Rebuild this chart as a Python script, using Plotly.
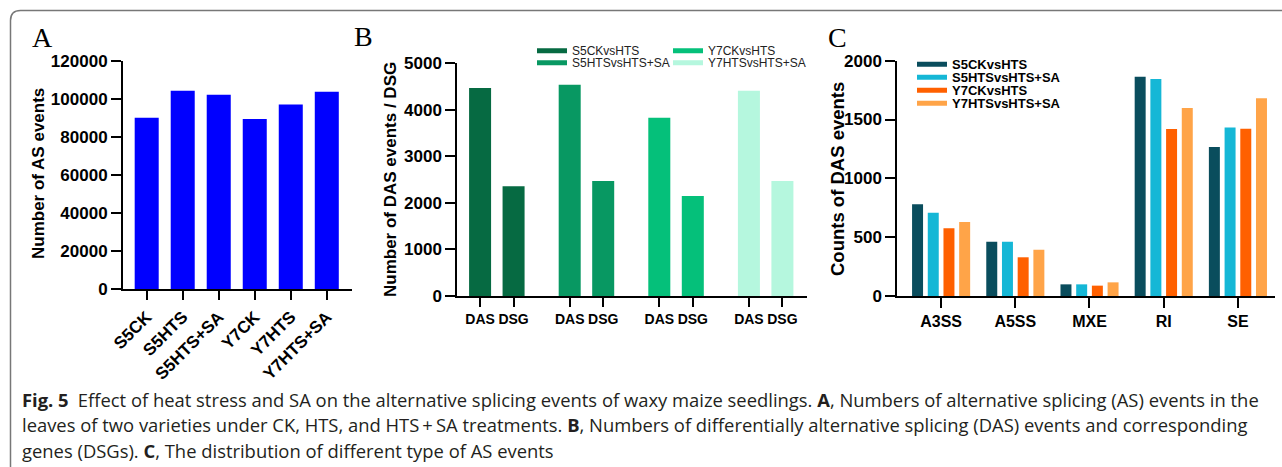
import plotly.graph_objects as go

W, H = 1282, 467

# ---------------- data ----------------
# Panel A
a_categories = ["S5CK", "S5HTS", "S5HTS+SA", "Y7CK", "Y7HTS", "Y7HTS+SA"]
a_values = [90000, 104200, 102100, 89400, 96900, 103700]
a_ticks = [0, 20000, 40000, 60000, 80000, 100000, 120000]

# Panel B
b_series = ["S5CKvsHTS", "S5HTSvsHTS+SA", "Y7CKvsHTS", "Y7HTSvsHTS+SA"]
b_labels = ["DAS", "DSG"]
b_das = [4470, 4540, 3830, 4410]
b_dsg = [2360, 2470, 2150, 2470]
b_ticks = [0, 1000, 2000, 3000, 4000, 5000]

# Panel C
c_categories = ["A3SS", "A5SS", "MXE", "RI", "SE"]
c_series = ["S5CKvsHTS", "S5HTSvsHTS+SA", "Y7CKvsHTS", "Y7HTSvsHTS+SA"]
c_s5ck = [779, 462, 99, 1864, 1266]
c_s5hts = [708, 462, 99, 1844, 1433]
c_y7ck = [575, 329, 88, 1419, 1422]
c_y7hts = [629, 394, 116, 1598, 1680]
c_ticks = [0, 500, 1000, 1500, 2000]

# ---------------- style ----------------
a_color = "#0000FF"
b_colors = ["#066A42", "#089862", "#05C07A", "#B5F7DE"]
c_colors = ["#0A4D5D", "#15B7D6", "#FF6000", "#FFA448"]

SANS = "Liberation Sans, Arial, sans-serif"
SERIF = "Liberation Serif, Times New Roman, serif"
CAP = "Open Sans, Noto Sans, sans-serif"


def px2x(p):
    return p / W


def px2y(p):
    return 1 - p / H


tick_font = dict(family=SANS, size=17, color="black", weight="bold")
a_cat_font = dict(family=SANS, size=17, color="black", weight="bold")
b_cat_font = dict(family=SANS, size=14, color="black", weight="bold")
c_cat_font = dict(family=SANS, size=16, color="black", weight="bold")

fig = go.Figure()

# Panel A bars
fig.add_trace(go.Bar(
    x=a_categories, y=a_values, marker=dict(color=a_color, line=dict(width=0)),
    width=0.667, offset=-0.3335, xaxis="x", yaxis="y", showlegend=False,
))

# Panel B bars (DAS/DSG pair per comparison)
GROUP_STEP = 2.675
for g, name in enumerate(b_series):
    xs = [g * GROUP_STEP + j for j in range(len(b_labels))]
    fig.add_trace(go.Bar(
        x=xs, y=[b_das[g], b_dsg[g]], name=name,
        marker=dict(color=b_colors[g], line=dict(width=0)),
        width=0.657, offset=-0.3285, xaxis="x2", yaxis="y2", showlegend=False,
    ))
b_tickvals = [g * GROUP_STEP + j for g in range(len(b_series)) for j in range(len(b_labels))]
b_ticktext = [lab for g in range(len(b_series)) for lab in b_labels]

# Panel C bars
c_values = [c_s5ck, c_s5hts, c_y7ck, c_y7hts]
for i, name in enumerate(c_series):
    fig.add_trace(go.Bar(
        x=c_categories, y=c_values[i], name=name,
        marker=dict(color=c_colors[i], line=dict(width=0)),
        width=0.148, offset=-0.391 + i * 0.2116,
        xaxis="x3", yaxis="y3", showlegend=False,
    ))

# Legend entries (thin bar swatches), one legend per entry for exact spacing
b_leg_pos = [(537, 50.7), (537, 62.7), (673, 50.7), (673, 62.7)]
c_leg_pos = [(917, 64.3), (917, 77.3), (917, 90.3), (917, 103.3)]
legend_layouts = {}
k = 1
for i, name in enumerate(b_series):
    lname = "legend" if k == 1 else f"legend{k}"
    fig.add_trace(go.Scatter(
        x=[None], y=[None], mode="lines", name=name,
        line=dict(color=b_colors[i], width=5),
        xaxis="x2", yaxis="y2", legend=lname, showlegend=True,
    ))
    lx, ly = b_leg_pos[i]
    legend_layouts[lname] = dict(
        x=px2x(lx - 5), y=px2y(ly), xanchor="left", yanchor="middle",
        bgcolor="rgba(0,0,0,0)", borderwidth=0,
        font=dict(family=SANS, size=12, color="#222222"),
    )
    k += 1
for i, name in enumerate(c_series):
    lname = f"legend{k}"
    fig.add_trace(go.Scatter(
        x=[None], y=[None], mode="lines", name=name,
        line=dict(color=c_colors[i], width=5),
        xaxis="x3", yaxis="y3", legend=lname, showlegend=True,
    ))
    lx, ly = c_leg_pos[i]
    legend_layouts[lname] = dict(
        x=px2x(lx - 5), y=px2y(ly), xanchor="left", yanchor="middle",
        bgcolor="rgba(0,0,0,0)", borderwidth=0,
        font=dict(family=SANS, size=13, color="black", weight="bold"),
    )
    k += 1

axis_common = dict(
    showline=True, linewidth=2, linecolor="black", ticks="outside",
    tickwidth=2, tickcolor="black", showgrid=False, zeroline=False,
    fixedrange=True, automargin=False,
)

fig.update_layout(
    width=W, height=H, margin=dict(l=0, r=0, t=0, b=0, pad=0, autoexpand=False),
    paper_bgcolor="white", plot_bgcolor="white",
    barmode="overlay", showlegend=True,
    xaxis=dict(domain=[px2x(123), px2x(352)], type="category", range=[-0.658, 5.70],
               tickangle=-45, tickfont=a_cat_font, ticklen=9, anchor="y", **axis_common),
    yaxis=dict(domain=[px2y(289.3), px2y(60.6)], range=[0, 120000], tickvals=a_ticks,
               tickformat="d", tickfont=tick_font, ticklen=10, anchor="x", **axis_common),
    xaxis2=dict(domain=[px2x(457.3), px2x(806.7)], range=[-0.68, 9.75],
                tickvals=b_tickvals, ticktext=b_ticktext, tickfont=b_cat_font,
                tickangle=0, ticklen=9, anchor="y2", **axis_common),
    yaxis2=dict(domain=[px2y(296), px2y(63.3)], range=[0, 5000], tickvals=b_ticks,
                tickformat="d", tickfont=tick_font, ticklen=10, anchor="x2", **axis_common),
    xaxis3=dict(domain=[px2x(897.3), px2x(1275)], type="category", range=[-0.59, 4.5],
                tickfont=c_cat_font, tickangle=0, ticklen=10, anchor="y3", **axis_common),
    yaxis3=dict(domain=[px2y(296), px2y(60.7)], range=[0, 2000], tickvals=c_ticks,
                tickformat="d", tickfont=tick_font, ticklen=10, anchor="x3", **axis_common),
    **legend_layouts,
)

annotations = []
# Axis titles
for text, xc, yc, size in [("Number of AS events", 39, 174, 17),
                           ("Number of DAS events / DSG", 390, 180, 17),
                           ("Counts of DAS events", 837, 179, 18.5)]:
    annotations.append(dict(text=text, x=px2x(xc), y=px2y(yc), xref="paper", yref="paper",
                            textangle=-90, showarrow=False, xanchor="center", yanchor="middle",
                            font=dict(family=SANS, size=size, color="black", weight="bold")))
# Panel letters
for text, xl, yc in [("A", 30, 37), ("B", 352, 36), ("C", 826, 37)]:
    annotations.append(dict(text=text, x=px2x(xl), y=px2y(yc), xref="paper", yref="paper",
                            showarrow=False, xanchor="left", yanchor="middle",
                            font=dict(family=SERIF, size=28, color="black")))
# Caption
caption_lines = [
    "<b>Fig. 5</b>\u2002Effect of heat stress and SA on the alternative splicing events of waxy maize seedlings. "
    "<b>A</b>, Numbers of alternative splicing (AS) events in the",
    "leaves of two varieties under CK, HTS, and HTS\u2009+\u2009SA treatments. <b>B</b>, Numbers of differentially "
    "alternative splicing (DAS) events and corresponding",
    "genes (DSGs). <b>C</b>, The distribution of different type of AS events",
]
for line, yc in zip(caption_lines, [399, 424.5, 450]):
    annotations.append(dict(text=line, x=px2x(20), y=px2y(yc), xref="paper", yref="paper",
                            showarrow=False, xanchor="left", yanchor="middle",
                            font=dict(family=CAP, size=18.4, color="#231F20")))
fig.update_layout(annotations=annotations)

# Frame with rounded top-left corner
path = (f"M {px2x(10.5)},{px2y(470)} L {px2x(10.5)},{px2y(20.5)} "
        f"Q {px2x(10.5)},{px2y(10.5)} {px2x(20.5)},{px2y(10.5)} L {px2x(1290)},{px2y(10.5)}")
fig.add_shape(type="path", path=path, xref="paper", yref="paper",
              line=dict(color="#777777", width=1.5))

fig.write_html("out.html", config={"displayModeBar": False},
               post_script="document.body.style.margin='0';document.body.style.overflow='hidden';")
